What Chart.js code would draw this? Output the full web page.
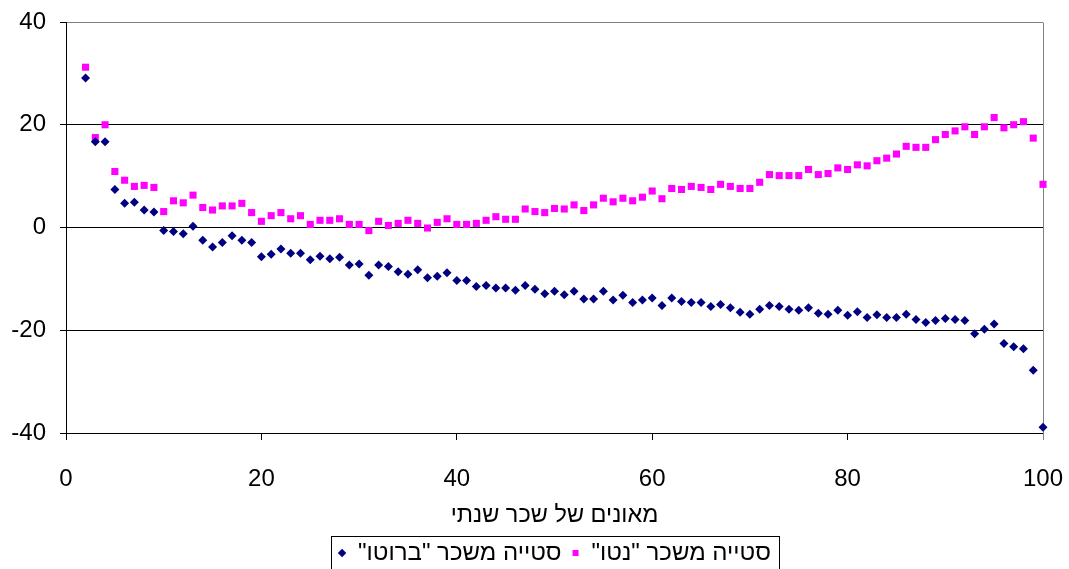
<!DOCTYPE html>
<html>
<head>
<meta charset="utf-8">
<title>סטייה משכר</title>
<script src="https://cdn.jsdelivr.net/npm/chart.js@4.4.1/dist/chart.umd.min.js"></script>
<style>
    html, body { margin: 0; padding: 0; background: #fff; overflow: hidden; }
    #wrap { width: 1069px; height: 569px; overflow: hidden; }
</style>
</head>
<body>
<div id="wrap">
    <canvas id="grafico" width="1069" height="583"></canvas>
</div>
<script>
// מאונים (אחוזונים) של שכר שנתי
const percentiles = [
    2, 3, 4, 5, 6, 7, 8, 9, 10,
    11, 12, 13, 14, 15, 16, 17, 18, 19, 20,
    21, 22, 23, 24, 25, 26, 27, 28, 29, 30,
    31, 32, 33, 34, 35, 36, 37, 38, 39, 40,
    41, 42, 43, 44, 45, 46, 47, 48, 49, 50,
    51, 52, 53, 54, 55, 56, 57, 58, 59, 60,
    61, 62, 63, 64, 65, 66, 67, 68, 69, 70,
    71, 72, 73, 74, 75, 76, 77, 78, 79, 80,
    81, 82, 83, 84, 85, 86, 87, 88, 89, 90,
    91, 92, 93, 94, 95, 96, 97, 98, 99, 100
];

// סטייה משכר "ברוטו"
const grossDeviation = [
    29.1, 16.7, 16.7, 7.4, 4.7, 4.9, 3.4, 3.0, -0.6,
    -0.8, -1.2, 0.25, -2.5, -3.8, -2.9, -1.6, -2.5, -2.9, -5.7,
    -5.2, -4.2, -5.0, -5.0, -6.3, -5.6, -6.1, -5.8, -7.3, -7.1,
    -9.3, -7.3, -7.6, -8.6, -9.1, -8.2, -9.8, -9.5, -8.8, -10.3,
    -10.3, -11.5, -11.3, -11.8, -11.8, -12.2, -11.3, -12.0, -12.9, -12.4,
    -13.1, -12.4, -13.9, -13.9, -12.4, -14.1, -13.2, -14.6, -14.1, -13.7,
    -15.2, -13.7, -14.4, -14.6, -14.6, -15.4, -15.0, -15.6, -16.5, -16.9,
    -15.9, -15.2, -15.4, -15.9, -16.1, -15.6, -16.7, -16.9, -16.1, -17.1,
    -16.4, -17.5, -17.0, -17.5, -17.5, -16.9, -17.9, -18.5, -18.1, -17.7,
    -17.9, -18.1, -20.7, -19.8, -18.8, -22.6, -23.2, -23.6, -27.8, -38.9
];

// סטייה משכר "נטו"
const netDeviation = [
    31.2, 17.5, 20.0, 10.9, 9.2, 8.0, 8.2, 7.8, 3.1,
    5.2, 4.8, 6.3, 3.9, 3.4, 4.2, 4.2, 4.7, 2.9, 1.2,
    2.3, 2.9, 1.7, 2.3, 0.6, 1.4, 1.4, 1.7, 0.6, 0.6,
    -0.6, 1.2, 0.4, 0.8, 1.4, 0.8, -0.1, 1.0, 1.7, 0.6,
    0.6, 0.8, 1.4, 2.1, 1.6, 1.6, 3.6, 3.1, 2.9, 3.7,
    3.6, 4.4, 3.3, 4.4, 5.7, 5.0, 5.7, 5.2, 5.9, 7.1,
    5.6, 7.6, 7.4, 8.0, 7.8, 7.4, 8.4, 8.0, 7.6, 7.6,
    8.8, 10.3, 10.1, 10.1, 10.1, 11.3, 10.3, 10.5, 11.6, 11.3,
    12.2, 12.0, 13.0, 13.5, 14.3, 15.8, 15.6, 15.6, 17.1, 18.1,
    18.8, 19.6, 18.1, 19.6, 21.4, 19.4, 20.0, 20.6, 17.4, 8.4
];

const yTicks = [-40, -20, 0, 20, 40];
const xTicks = [0, 20, 40, 60, 80, 100];

const axisTitle = 'מאונים של שכר שנתי';
// RLM בסוף כדי שהמירכאות הסוגרות יוצגו נכון
const grossLabel = 'סטייה משכר "ברוטו"\u200F';
const netLabel = 'סטייה משכר "נטו"\u200F';

function toPoints(values) {
    return values.map((v, i) => ({ x: percentiles[i], y: v }));
}

// קו אפור בצד ימין של שטח השרטוט
const plotFrame = {
    id: 'plotFrame',
    beforeDatasetsDraw(chart) {
        const { ctx, chartArea } = chart;
        ctx.save();
        ctx.strokeStyle = '#808080';
        ctx.lineWidth = 1;
        ctx.beginPath();
        const r = Math.round(chartArea.right) + 0.5;
        ctx.moveTo(r, Math.round(chartArea.top) + 0.5);
        ctx.lineTo(r, Math.round(chartArea.bottom) + 7);
        ctx.stroke();
        ctx.restore();
    }
};

// המקרא ממורכז מתחת לשטח השרטוט, עם מסגרת
const legendFrame = {
    id: 'legendFrame',
    afterLayout(chart) {
        const lg = chart.legend;
        const shift = (chart.chartArea.left + chart.chartArea.right) / 2 - (lg.left + lg.right) / 2;
        lg.left += shift;
        lg.right += shift;
        (lg.legendHitBoxes || []).forEach(b => { b.left += shift; });
    },
    afterDraw(chart) {
        const boxes = chart.legend.legendHitBoxes;
        if (!boxes || !boxes.length) return;
        const left = Math.min(...boxes.map(b => b.left)) - 7;
        const right = Math.max(...boxes.map(b => b.left + b.width)) + 8;
        const top = Math.min(...boxes.map(b => b.top)) - 5;
        const ctx = chart.ctx;
        ctx.save();
        ctx.strokeStyle = '#000';
        ctx.lineWidth = 1;
        ctx.strokeRect(Math.round(left) + 0.5, Math.round(top) + 0.5, Math.round(right - left), chart.height);
        ctx.restore();
    }
};

Chart.defaults.font.family = '"Liberation Sans", Arial, sans-serif';
Chart.defaults.font.size = 24;
Chart.defaults.color = '#000';

new Chart(document.getElementById('grafico'), {
    type: 'scatter',
    data: {
        datasets: [
            {
                label: grossLabel,
                data: toPoints(grossDeviation),
                pointStyle: 'rectRot',
                pointRadius: 4.5,
                pointBackgroundColor: '#000080',
                pointBorderWidth: 0,
                backgroundColor: '#000080',
                borderColor: '#000080',
                clip: false
            },
            {
                label: netLabel,
                data: toPoints(netDeviation),
                pointStyle: 'rect',
                pointRadius: 5,
                pointBackgroundColor: '#ff00ff',
                pointBorderWidth: 0,
                backgroundColor: '#ff00ff',
                borderColor: '#ff00ff',
                clip: false
            }
        ]
    },
    options: {
        responsive: false,
        animation: false,
        layout: { padding: { left: 0, right: 26, top: 22, bottom: 8 } },
        plugins: {
            tooltip: { enabled: false },
            legend: {
                position: 'bottom',
                labels: {
                    usePointStyle: true,
                    boxWidth: 8,
                    boxHeight: 6,
                    padding: 10,
                    color: '#000',
                    font: { size: 24 }
                }
            }
        },
        scales: {
            x: {
                type: 'linear',
                min: 0,
                max: 100,
                afterBuildTicks: scale => { scale.ticks = xTicks.map(v => ({ value: v })); },
                afterFit: scale => {
                    scale.height = 98;
                    scale.paddingLeft = 0;
                    scale.paddingRight = 0;
                },
                ticks: { padding: 25, color: '#000' },
                grid: { drawOnChartArea: false, tickLength: 7, tickColor: '#000' },
                border: { color: '#000' },
                title: {
                    display: true,
                    text: axisTitle,
                    font: { size: 23.5 },
                    padding: { top: 0, bottom: 1 },
                    color: '#000'
                }
            },
            y: {
                min: -40,
                max: 40,
                afterBuildTicks: scale => { scale.ticks = yTicks.map(v => ({ value: v })); },
                afterFit: scale => {
                    scale.width = 66;
                    scale.paddingTop = 0;
                    scale.paddingBottom = 0;
                },
                ticks: { padding: 14, color: '#000' },
                grid: {
                    color: ctx => (ctx.tick && ctx.tick.value === 40 ? '#808080' : '#000'),
                    tickLength: 6,
                    tickColor: '#000'
                },
                border: { color: '#000' }
            }
        }
    },
    plugins: [plotFrame, legendFrame]
});
</script>
</body>
</html>
